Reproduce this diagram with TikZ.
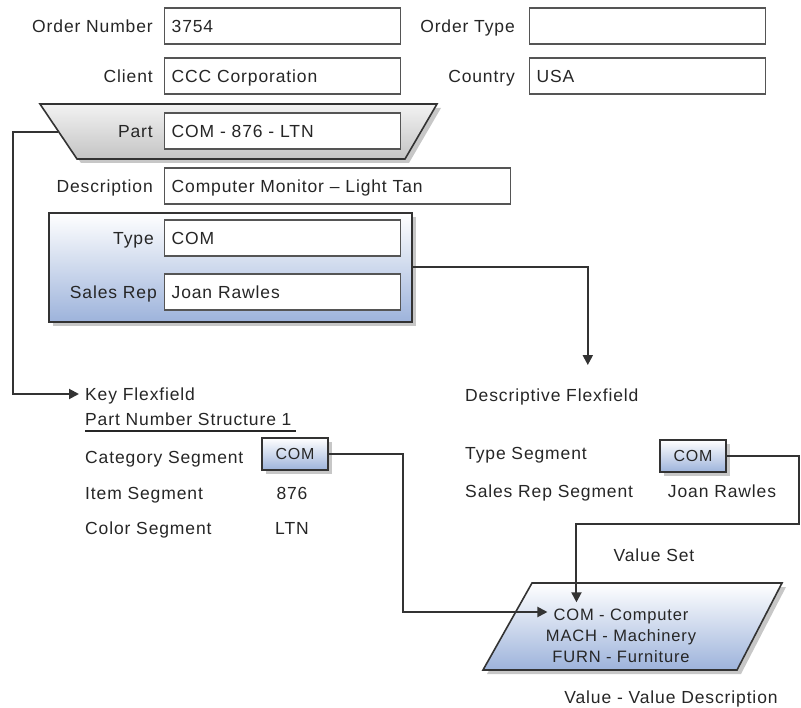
\documentclass[tikz,border=0pt]{standalone}
\usepackage{fontspec}
\setmainfont{Liberation Sans}[LetterSpace=5]
\usetikzlibrary{shadows,arrows.meta}

\begin{document}
\begin{tikzpicture}[>={Triangle[length=10pt, width=10pt]}, x=1pt, y=-1pt,
    lbl/.style={font=\fontsize{17.5}{20}\selectfont, text=txt, inner sep=2pt,
        text height=16pt, text depth=3.5pt},
    fld/.style={draw=fldline, fill=white, line width=1.3pt, anchor=west,
        minimum height=36pt, text width=222pt, align=left, inner xsep=7pt, inner ysep=0pt,
        text height=16pt, text depth=3.5pt,
        font=\fontsize{17.5}{20}\selectfont, text=txt},
    shade/.style={drop shadow={shadow xshift=4pt, shadow yshift=-4pt, fill=black, opacity=0.22}},
    panel/.style={draw=edge, line width=1.6pt, top color=white, bottom color=panelblue, shade},
    segbox/.style={panel, minimum width=66pt, minimum height=32pt, inner sep=0pt,
        font=\fontsize{16}{18}\selectfont, text=txt},
    valtxt/.style={font=\fontsize{16.5}{18}\selectfont, text=txt, inner sep=2pt},
    conn/.style={draw=edge, line width=2pt}]
    % ----------- 共用參數 -----------
    \definecolor{txt}{HTML}{262626}
    \definecolor{edge}{HTML}{333333}
    \definecolor{fldline}{HTML}{555555}
    \definecolor{panelblue}{HTML}{9DB3DB}
    \definecolor{trapgray}{HTML}{C4C4C4}
    \useasboundingbox (0,0) rectangle (801,708);

    % =====================================
    %            訂單欄位
    % =====================================
    \node[fld] (onum) at (164,26) {3754};
    \node[lbl, anchor=east] (onumlbl) at ([xshift=-9pt]onum.west) {Order Number};
    \node[fld] (otype) at (529,26) {};
    \node[lbl, anchor=east] (otypelbl) at ([xshift=-12pt]otype.west) {Order Type};
    \node[fld] (client) at (164,76) {CCC Corporation};
    \node[lbl, anchor=east] (clientlbl) at ([xshift=-9pt]client.west) {Client};
    \node[fld] (country) at (529,76) {USA};
    \node[lbl, anchor=east] (countrylbl) at ([xshift=-12pt]country.west) {Country};

    % 梯形:Part
    \path[draw=edge, line width=1.6pt, top color=white!95!black, bottom color=trapgray, shade]
        (40,104) -- (437,104) -- (405,159) -- (77,159) -- cycle;
    \coordinate (partL) at (58,132);
    \node[fld] (part) at (164,131) {COM - 876 - LTN};
    \node[lbl, anchor=east] (partlbl) at ([xshift=-9pt]part.west) {Part};

    \node[fld, text width=332pt] (desc) at (164,186) {Computer Monitor -- Light Tan};
    \node[lbl, anchor=east] (desclbl) at ([xshift=-9pt]desc.west) {Description};

    % 藍色框:Type / Sales Rep
    \node[panel, minimum width=363pt, minimum height=109pt] (tpanel) at (230.5,267.5) {};
    \node[fld] (type) at (164,238) {COM};
    \node[lbl, anchor=east] (typelbl) at ([xshift=-8pt]type.west) {Type};
    \node[fld] (rep) at (164,292) {Joan Rawles};
    \node[lbl, anchor=east] (replbl) at ([xshift=-5pt]rep.west) {Sales Rep};

    % =====================================
    %            Key Flexfield
    % =====================================
    \node[lbl, anchor=west] (kf) at (83,394) {Key Flexfield};
    \node[lbl, anchor=west] (pns) at (83,419) {Part Number Structure 1};
    \draw[draw=txt, line width=1.2pt] ([xshift=2pt]pns.south west) -- ([xshift=2pt]pns.south east);
    \node[lbl, anchor=west] (catseg) at (83,457) {Category Segment};
    \node[segbox] (catcom) at (295,454) {COM};
    \node[lbl, anchor=west] (itemseg) at (83,493) {Item Segment};
    \node[lbl] (itemval) at (292,493) {876};
    \node[lbl, anchor=west] (colseg) at (83,528) {Color Segment};
    \node[lbl] (colval) at (292,528) {LTN};

    % =====================================
    %            Descriptive Flexfield
    % =====================================
    \node[lbl, anchor=west] (dflex) at (463,395) {Descriptive Flexfield};
    \node[lbl, anchor=west] (typeseg) at (463,453) {Type Segment};
    \node[segbox] (dcom) at (693,456) {COM};
    \node[lbl, anchor=west] (repseg) at (463,491) {Sales Rep Segment};
    \node[lbl] (repval) at (722,491) {Joan Rawles};

    % =====================================
    %            Value Set
    % =====================================
    \node[lbl] (vsetlbl) at (654,555) {Value Set};
    % 平行四邊形
    \path[panel] (532,583) -- (782,583) -- (737,670) -- (483,670) -- cycle;
    \node[valtxt] (v1) at (621,616) {COM - Computer};
    \node[valtxt] (v2) at (621,637) {MACH - Machinery};
    \node[valtxt] (v3) at (621,657) {FURN - Furniture};
    \node[lbl] (vdesc) at (671,697) {Value - Value Description};

    % 連接線
    \draw[conn, ->] (partL) -- ++(-45,0) |- ([xshift=-4pt]kf.west);
    \draw[conn, ->] (tpanel.east) -| ([xshift=36pt, yshift=18pt]dflex.north);
    \draw[conn, ->] (catcom.east) -- ++(74,0) |- ([xshift=-4pt, yshift=4pt]v1.west);
    \draw[conn, ->] (dcom.east) -- ++(72,0) -- ++(0,68) -| ([xshift=25pt, yshift=4pt]v1.north west);
\end{tikzpicture}
\end{document}
